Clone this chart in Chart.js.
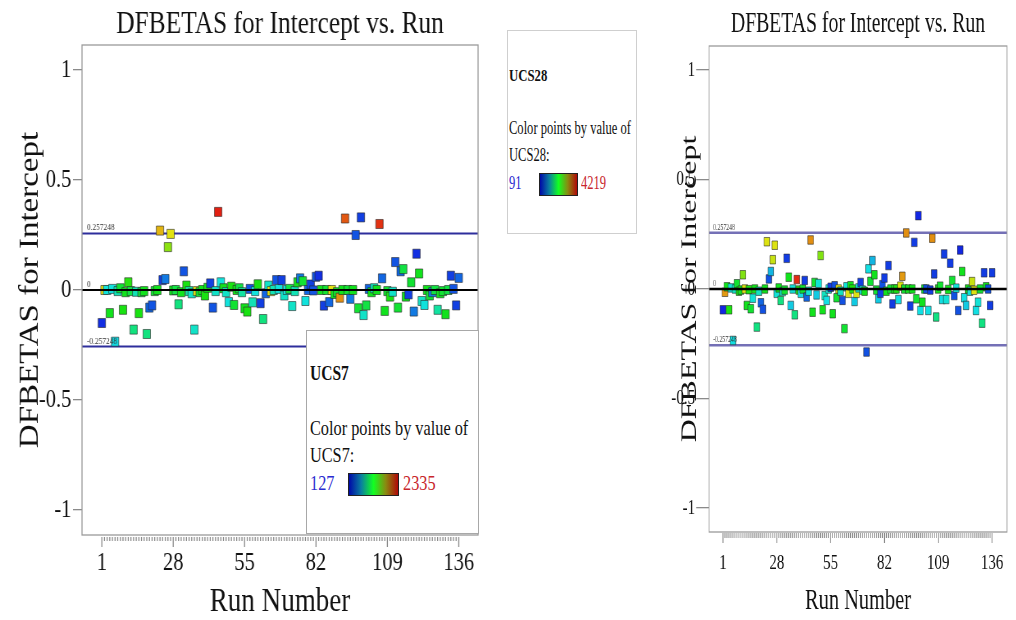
<!DOCTYPE html>
<html>
<head>
<meta charset="utf-8">
<script src="https://cdn.jsdelivr.net/npm/chart.js@4/dist/chart.umd.min.js"></script>
<style>
  body { margin: 0; width: 1016px; height: 620px; overflow: hidden; position: relative; background: #fff;
         font-family: "Liberation Serif", "Times New Roman", serif; color: #111; }
  .panel { position: absolute; top: 0; height: 620px; transform-origin: 0 0; }
  #leftPanel { left: 0; width: 610px; transform: scaleX(0.82); }
  #rightPanel { left: 640px; width: 553px; transform: scaleX(0.68); }
  .legend { position: absolute; background: #fff; box-sizing: border-box; }
  #legend7 { left: 306px; top: 330px; width: 173px; height: 204px; border: 1px solid #a8a8a8; }
  #legend28 { left: 507px; top: 30px; width: 130px; height: 204px; border: 1px solid #cfcfcf; }
  .legend span { position: absolute; white-space: nowrap; line-height: 1; transform-origin: 0 0; }
  .legend .grad { position: absolute; height: 23px; border: 1px solid #222; box-sizing: border-box;
                  background: linear-gradient(to right, #0008a8, #0a7fa0 25%, #12ff22 50%, #8a8a10 75%, #b00808); }
  .lo { color: #2a2ad0; }
  .hi { color: #c8262c; }
</style>
</head>
<body>
<div id="leftPanel" class="panel"><canvas id="leftChart" width="610" height="620"></canvas></div>
<div id="rightPanel" class="panel"><canvas id="rightChart" width="553" height="620"></canvas></div>

<div class="legend" id="legend28">
  <span style="left:1px;top:36px;font-size:17px;font-weight:bold;transform:scaleX(0.75)">UCS28</span>
  <span style="left:1px;top:87px;font-size:19px;transform:scaleX(0.66)">Color points by value of</span>
  <span style="left:1px;top:114px;font-size:19px;transform:scaleX(0.66)">UCS28:</span>
  <span class="lo" style="left:1px;top:142px;font-size:19px;transform:scaleX(0.66)">91</span>
  <div class="grad" style="left:31px;top:142px;width:39px"></div>
  <span class="hi" style="left:73px;top:142px;font-size:19px;transform:scaleX(0.66)">4219</span>
</div>

<div class="legend" id="legend7">
  <span style="left:3px;top:32px;font-size:21px;font-weight:bold;transform:scaleX(0.74)">UCS7</span>
  <span style="left:3px;top:86px;font-size:22px;transform:scaleX(0.74)">Color points by value of</span>
  <span style="left:3px;top:113px;font-size:22px;transform:scaleX(0.74)">UCS7:</span>
  <span class="lo" style="left:3px;top:141px;font-size:22px;transform:scaleX(0.74)">127</span>
  <div class="grad" style="left:41px;top:142px;width:51px"></div>
  <span class="hi" style="left:96px;top:141px;font-size:22px;transform:scaleX(0.74)">2335</span>
</div>

<script>
const family = '"Liberation Serif", "Times New Roman", serif';

// общие подписи осей
const yTickValues = [-1, -0.5, 0, 0.5, 1];
const xTickLabels = [1, 28, 55, 82, 109, 136];
const cutoff = 0.257248;

// левая панель: DFBETAS по номеру запуска, цвет по UCS7
const leftDfbetas = [
  -0.15, 0.0, 0.0, -0.105, 0.005, -0.235, -0.005, 0.008, -0.09, -0.01,
  0.035, -0.005, -0.18, -0.008, -0.105, -0.01, -0.005, -0.2, -0.08, -0.07,
  -0.005, 0.0, 0.27, 0.045, 0.05, 0.195, 0.255, -0.002, 0.0, -0.065,
  -0.01, 0.085, 0.02, -0.005, -0.015, -0.18, -0.005, -0.01, 0.0, -0.025,
  0.01, 0.03, -0.08, -0.005, 0.355, 0.035, 0.008, -0.01, -0.055, 0.015,
  -0.068, 0.0, 0.008, -0.01, -0.083, -0.098, 0.005, -0.056, -0.005, 0.026,
  -0.06, -0.132, -0.015, 0.02, -0.005, 0.0, 0.045, 0.005, 0.045, -0.025,
  0.0, 0.005, -0.073, -0.005, 0.035, 0.053, 0.04, -0.05, 0.0, 0.025,
  -0.002, 0.06, 0.065, 0.0, -0.071, 0.0, -0.055, 0.0, -0.018, -0.01,
  -0.035, 0.0, 0.325, 0.0, -0.04, 0.0, 0.25, -0.083, 0.33, -0.114,
  -0.07, 0.005, -0.01, 0.008, 0.0, 0.3, 0.053, -0.095, -0.005, -0.03,
  -0.008, 0.127, -0.08, 0.085, 0.095, -0.03, -0.02, 0.035, -0.098, 0.165,
  0.075, -0.05, -0.068, 0.0, -0.025, -0.01, 0.0, -0.09, -0.015, -0.005,
  -0.11, 0.0, 0.065, 0.005, -0.07, 0.055
];
const leftUcs7 = [
  200, 1780, 700, 1200, 700, 650, 800, 1150, 1250, 1200,
  1300, 1100, 950, 800, 1250, 1100, 1200, 950, 350, 300,
  1150, 1200, 1900, 250, 400, 1550, 1780, 1200, 1100, 950,
  1200, 300, 1250, 850, 750, 750, 1780, 1150, 1200, 1250,
  1200, 250, 300, 750, 2300, 700, 1200, 750, 700, 1250,
  1150, 1200, 1100, 850, 1200, 1250, 300, 800, 700, 1250,
  250, 950, 350, 750, 1780, 800, 300, 700, 250, 750,
  700, 1100, 750, 800, 1200, 400, 1150, 700, 350, 250,
  300, 300, 200, 1200, 250, 1150, 350, 1780, 1200, 1150,
  2000, 1200, 2150, 1150, 400, 1200, 300, 1150, 250, 750,
  1100, 350, 1200, 800, 1200, 2250, 350, 1200, 1150, 1250,
  750, 300, 1150, 350, 1100, 1200, 250, 1150, 400, 200,
  1200, 750, 700, 1200, 1150, 400, 1100, 850, 1200, 1150,
  1200, 1100, 250, 300, 250, 350
];
const ucs7Range = [127, 2335];

// правая панель: цвет по UCS28
const rightDfbetas = [
  -0.095, -0.015, 0.01, -0.095, 0.005, -0.235, 0.0, 0.024, -0.01, -0.005,
  0.065, 0.0, -0.075, -0.003, -0.09, -0.042, 0.0, -0.174, -0.01, -0.063,
  -0.093, 0.0, 0.216, 0.046, 0.08, 0.134, 0.2, -0.02, 0.005, -0.052,
  -0.012, -0.005, 0.14, 0.054, -0.075, 0.0, -0.118, 0.043, -0.005, -0.02,
  0.0, 0.039, -0.037, -0.01, 0.224, -0.106, 0.03, -0.027, 0.025, 0.153,
  -0.095, -0.03, -0.052, 0.0, 0.008, -0.113, 0.015, -0.04, 0.0, -0.01,
  -0.052, -0.181, 0.01, -0.02, 0.015, 0.0, -0.057, -0.02, 0.005, 0.03,
  -0.005, -0.01, -0.288, 0.092, 0.035, 0.13, 0.065, -0.005, -0.045, -0.02,
  0.02, 0.05, -0.01, 0.107, 0.0, -0.068, 0.0, 0.0, -0.048, 0.013,
  0.058, 0.0, 0.256, 0.0, -0.078, 0.0, 0.213, -0.045, 0.335, -0.098,
  -0.06, 0.0, 0.0, -0.098, -0.005, 0.232, 0.069, -0.128, 0.0, 0.013,
  -0.048, 0.16, -0.048, -0.002, 0.118, 0.039, -0.03, 0.004, -0.098, 0.178,
  0.08, -0.04, -0.075, 0.0, -0.01, 0.034, -0.006, -0.098, -0.06, 0.0,
  -0.156, 0.074, 0.01, 0.0, -0.075, 0.074
];
const rightUcs28 = [
  200, 3550, 2100, 2200, 1200, 1100, 1300, 2000, 2200, 2100,
  2700, 3150, 2100, 2200, 2000, 1200, 2100, 1600, 1300, 500,
  400, 2100, 3150, 400, 900, 3050, 3150, 1200, 2100, 1600,
  1300, 2000, 300, 2100, 1000, 1200, 1600, 4100, 2200, 1100,
  2000, 300, 500, 1200, 3600, 2100, 2000, 1000, 1200, 2700,
  2100, 1300, 1100, 1200, 300, 2100, 400, 2000, 3150, 1300,
  400, 2000, 1200, 3150, 2100, 2200, 1000, 3150, 1200, 300,
  1200, 2100, 400, 1100, 2000, 900, 2100, 2000, 1000, 300,
  400, 300, 2100, 300, 2000, 300, 2100, 2200, 1100, 3150,
  3550, 2000, 3600, 2100, 300, 2100, 300, 2000, 200, 1100,
  2100, 2000, 400, 1100, 300, 3600, 300, 1600, 2100, 2000,
  1100, 300, 1200, 2100, 300, 2000, 400, 1200, 400, 200,
  2100, 1100, 1000, 2100, 1200, 3050, 3150, 1100, 1200, 2000,
  1600, 300, 2100, 400, 300, 300
];
const ucs28Range = [91, 4219];

// цвет точки: от синего (мин.) через голубой, зелёный, жёлтый к красному (макс.)
function pointColor(v, range) {
  const t = Math.min(1, Math.max(0, (v - range[0]) / (range[1] - range[0])));
  return `hsl(${Math.round(240 * (1 - t))}, 85%, 48%)`;
}

// рамка, мелкие засечки по X и подписи линий отсечки
const decor = {
  id: 'decor',
  afterDraw(chart, args, o) {
    const {ctx, chartArea: a, scales: {x, y}} = chart;
    ctx.save();
    ctx.strokeStyle = o.frameColor;
    ctx.lineWidth = 1.3;
    ctx.strokeRect(a.left, a.top, a.right - a.left, a.bottom - a.top);

    ctx.strokeStyle = '#8a8a8a';
    ctx.lineWidth = 1.3;
    for (let run = 1; run <= o.runs; run++) {
      const px = x.getPixelForValue(run);
      const len = xTickLabels.includes(run) ? o.majorLen : o.minorLen;
      ctx.beginPath();
      ctx.moveTo(px, a.bottom + o.gap);
      ctx.lineTo(px, a.bottom + o.gap + len);
      ctx.stroke();
    }

    ctx.fillStyle = '#333';
    ctx.font = `${o.labelSize}px ${family}`;
    ctx.textBaseline = 'alphabetic';
    [cutoff, 0, -cutoff].forEach(v => {
      ctx.fillText(String(v), a.left + 6, y.getPixelForValue(v) - 3);
    });
    ctx.restore();
  }
};

function makePanel(canvasId, p) {
  const points = p.values.map((v, i) => ({x: i + 1, y: v}));
  const hline = v => [{x: p.xMin, y: v}, {x: p.xMax, y: v}];

  return new Chart(document.getElementById(canvasId), {
    type: 'scatter',
    data: {
      datasets: [
        { data: hline(0), showLine: true, borderColor: '#000', borderWidth: p.zeroWidth, pointRadius: 0, order: 0 },
        {
          data: points,
          backgroundColor: p.colors.map(c => pointColor(c, p.range)),
          borderColor: 'rgba(40, 40, 40, 0.6)',
          borderWidth: 1,
          pointStyle: 'rect',
          pointRadius: p.pointRadius,
          order: 1
        },
        { data: hline(cutoff), showLine: true, borderColor: p.cutColor, borderWidth: p.cutWidth, pointRadius: 0, order: 2 },
        { data: hline(-cutoff), showLine: true, borderColor: p.cutColor, borderWidth: p.cutWidth, pointRadius: 0, order: 2 }
      ]
    },
    options: {
      responsive: false,
      animation: false,
      layout: { padding: { left: 0, right: p.padRight, top: 0, bottom: 0 } },
      plugins: {
        legend: { display: false },
        tooltip: { enabled: false },
        title: {
          display: true,
          text: 'DFBETAS for Intercept vs. Run',
          fullSize: false,
          color: '#111',
          font: { family: family, size: p.titleSize, weight: 'normal', lineHeight: 1.2 },
          padding: p.titlePad
        },
        decor: {
          runs: p.values.length, frameColor: '#9a9a9a', gap: p.tickGap,
          minorLen: p.minorLen, majorLen: p.majorLen, labelSize: p.labelSize
        }
      },
      scales: {
        x: {
          type: 'linear',
          min: p.xMin,
          max: p.xMax,
          afterBuildTicks: s => { s.ticks = xTickLabels.map(v => ({value: v})); },
          afterFit: s => { s.height = p.xAxisHeight; },
          grid: { display: false, drawTicks: false },
          border: { display: false },
          ticks: { color: '#111', font: { family: family, size: p.tickSize }, padding: p.xTickPad, autoSkip: false, maxRotation: 0 },
          title: {
            display: true, text: 'Run Number', color: '#111',
            font: { family: family, size: p.axisTitleSize, lineHeight: 1 },
            padding: { top: 0, bottom: p.xTitlePad }
          }
        },
        y: {
          min: -p.yLim,
          max: p.yLim,
          afterBuildTicks: s => { s.ticks = yTickValues.map(v => ({value: v})); },
          afterFit: s => { s.width = p.yAxisWidth; },
          grid: { drawOnChartArea: false, drawTicks: true, tickLength: p.yTickLen, color: '#8a8a8a', lineWidth: 1.3 },
          border: { display: false },
          ticks: { color: '#111', font: { family: family, size: p.tickSize }, padding: p.yTickPad, callback: v => String(v) },
          title: {
            display: true, text: 'DFBETAS for Intercept', color: '#111',
            font: { family: family, size: p.yTitleSize, lineHeight: 1.2 },
            padding: { top: p.yTitlePad, bottom: 0 }
          }
        }
      }
    },
    plugins: [decor]
  });
}

makePanel('leftChart', {
  values: leftDfbetas, colors: leftUcs7, range: ucs7Range,
  xMin: -6.5, xMax: 143.3, yLim: 1.1136,
  padRight: 27, yAxisWidth: 100, xAxisHeight: 85,
  titleSize: 31, titlePad: { top: 6, bottom: 1.8 },
  tickSize: 25, xTickPad: 13, yTickLen: 11, yTickPad: 2,
  axisTitleSize: 33, xTitlePad: 1.3, yTitleSize: 33, yTitlePad: 18,
  pointRadius: 6.4, zeroWidth: 2, cutColor: '#2e2e9c', cutWidth: 2,
  tickGap: 2, minorLen: 4, majorLen: 10, labelSize: 9
});

makePanel('rightChart', {
  values: rightDfbetas, colors: rightUcs28, range: ucs28Range,
  xMin: -6, xMax: 143.5, yLim: 1.11,
  padRight: 13.3, yAxisWidth: 101.5, xAxisHeight: 88,
  titleSize: 29, titlePad: { top: 7, bottom: 4.2 },
  tickSize: 22, xTickPad: 18, yTickLen: 19, yTickPad: 1.6,
  axisTitleSize: 30, xTitlePad: 3.4, yTitleSize: 32, yTitlePad: 54,
  pointRadius: 6, zeroWidth: 2.5, cutColor: '#7470b6', cutWidth: 2.5,
  tickGap: 1, minorLen: 5, majorLen: 10, labelSize: 8.5
});
</script>
</body>
</html>
